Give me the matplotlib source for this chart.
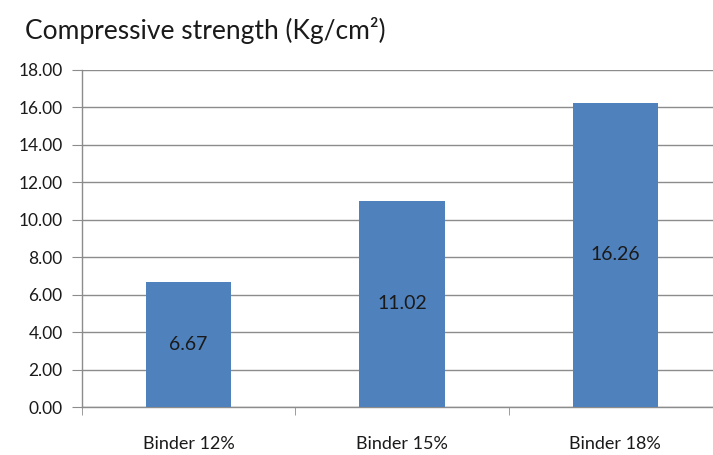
import matplotlib.pyplot as plt
import numpy as np

plt.rcParams['font.family'] = ['Lato', 'DejaVu Sans']

# data
categories = ["Binder 12%", "Binder 15%", "Binder 18%"]
strength = [6.67, 11.02, 16.26]
yticks = [0, 2, 4, 6, 8, 10, 12, 14, 16, 18]

fig = plt.figure(figsize=(7.13, 4.55), dpi=100)
ax = fig.add_axes([82 / 713, 48 / 455, 640 / 713, 337 / 455])

x = np.arange(len(categories))
bars = ax.bar(x, strength, width=0.4, color="#4F81BD", zorder=3)

for b, v in zip(bars, strength):
    ax.text(b.get_x() + b.get_width() / 2, v / 2, f"{v:.2f}",
            ha="center", va="center", fontsize=14, color="#1a1a1a", zorder=4)

ax.set_xlim(-0.5, len(categories) - 0.5)
ax.set_ylim(0, 18)
ax.set_yticks(yticks)
ax.set_yticklabels([f"{t:.2f}" for t in yticks], fontsize=12.5, color="#1a1a1a")
ax.yaxis.grid(True, color="#8c8c8c", linewidth=1, zorder=0)

# category labels in the middle, tick marks at the boundaries
ax.set_xticks(x)
ax.set_xticklabels(categories, fontsize=13, color="#1a1a1a")
ax.tick_params(axis="x", length=0, pad=21)
ax.set_xticks(np.arange(len(categories) + 1) - 0.5, minor=True)
ax.tick_params(axis="x", which="minor", length=6, color="#8c8c8c", direction="out")
ax.tick_params(axis="y", length=7, color="#8c8c8c", direction="out", pad=7)

for s in ["top", "right"]:
    ax.spines[s].set_visible(False)
for s in ["left", "bottom"]:
    ax.spines[s].set_color("#8c8c8c")
    ax.spines[s].set_linewidth(1)

fig.text(25 / 713, 1 - 30 / 455, "Compressive strength (Kg/cm²)",
         fontsize=19, va="center", ha="left", color="#1a1a1a")

fig.savefig("out.png", dpi=100)
